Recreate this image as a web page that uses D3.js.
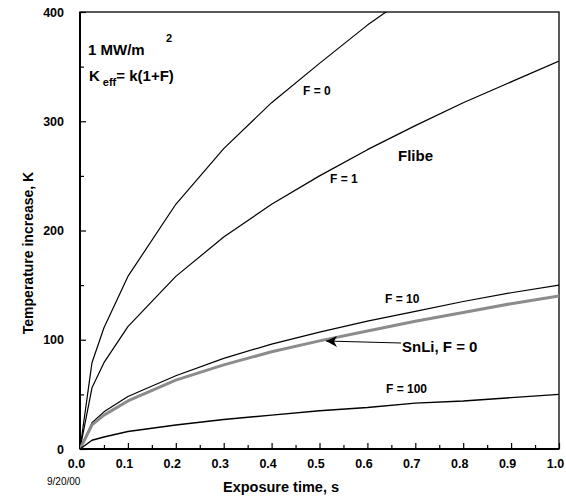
<!DOCTYPE html>
<html><head><meta charset="utf-8">
<script src="https://cdn.jsdelivr.net/npm/d3@7"></script>
<style>
body{margin:0;background:#fff}
svg text{font-family:"Liberation Sans Narrow","Arial Narrow","Liberation Sans",Arial,sans-serif;fill:#000}
</style>
</head><body>
<svg id="c" width="566" height="497"></svg>
<script>
// ---- data ----
const times   = [0, 0.025, 0.05, 0.1, 0.2, 0.3, 0.4, 0.5, 0.6, 0.7, 0.8, 0.9, 1.0];
const flibeF0   = [0, 79, 111, 158, 224, 275, 317, 353, 388, 419, null, null, null];
const flibeF1   = [0, 56, 79, 112, 158, 194, 224, 250, 274, 296, 317, 336, 355];
const flibeF10  = [0, 24, 34, 48, 67, 83, 96, 107, 117, 126, 135, 143, 150];
const snliF0    = [0, 22, 31, 44, 63, 77, 89, 99, 108, 117, 125, 133, 140];
const flibeF100 = [0, 8, 11, 16, 22, 27, 31, 35, 38, 42, 44, 47, 50];
const xTicks = [0, 0.1, 0.2, 0.3, 0.4, 0.5, 0.6, 0.7, 0.8, 0.9, 1.0];
const yTicks = [0, 100, 200, 300, 400];

const svg = d3.select("#c");
const L = 80, R = 559, T = 12, B = 449;
const x = d3.scaleLinear().domain([0, 1]).range([L, R]);
const y = d3.scaleLinear().domain([0, 400]).range([B, T]);

svg.append("clipPath").attr("id", "clip").append("rect")
  .attr("x", L).attr("y", T).attr("width", R - L).attr("height", B - T);

// minor ticks
svg.append("g").attr("transform", `translate(0,${B})`)
  .call(d3.axisBottom(x).tickValues(d3.range(0.05, 1, 0.1)).tickSize(-4).tickFormat(""))
  .call(g => g.select(".domain").remove());
svg.append("g").attr("transform", `translate(${L},0)`)
  .call(d3.axisLeft(y).tickValues([50, 150, 250, 350]).tickSize(-4).tickFormat(""))
  .call(g => g.select(".domain").remove());

// major axes
const xa = svg.append("g").attr("transform", `translate(0,${B})`)
  .call(d3.axisBottom(x).tickValues(xTicks).tickSizeInner(-6).tickSizeOuter(0).tickPadding(10).tickFormat(d3.format(".1f")));
xa.select(".domain").remove();
xa.selectAll("text").attr("dx", -4).style("font-size", "12.5px").style("font-weight", "bold");

const ya = svg.append("g").attr("transform", `translate(${L},0)`)
  .call(d3.axisLeft(y).tickValues(yTicks).tickSizeInner(-6).tickSizeOuter(0).tickPadding(16).tickFormat(d3.format("d")));
ya.select(".domain").remove();
ya.selectAll("text").style("font-size", "12.5px").style("font-weight", "bold");
svg.selectAll(".tick line").attr("stroke", "#000").attr("stroke-width", 1.2);

// frame
svg.append("rect").attr("x", L).attr("y", T).attr("width", R - L).attr("height", B - T)
  .attr("fill", "none").attr("stroke", "#000").attr("stroke-width", 1.3);
svg.append("line").attr("x1", L).attr("x2", L).attr("y1", T).attr("y2", B).attr("stroke", "#000").attr("stroke-width", 2);
svg.append("line").attr("x1", L).attr("x2", R).attr("y1", B).attr("y2", B).attr("stroke", "#000").attr("stroke-width", 2);

// curves
const line = d3.line().defined(d => d[1] != null).x(d => x(d[0])).y(d => y(d[1]));
const series = [
  {v: flibeF0, c: "#000", w: 1.2},
  {v: flibeF1, c: "#000", w: 1.2},
  {v: flibeF10, c: "#000", w: 1.2},
  {v: snliF0, c: "#8c8c8c", w: 3},
  {v: flibeF100, c: "#000", w: 1.4}
];
const gl = svg.append("g").attr("clip-path", "url(#clip)");
series.forEach(s => {
  gl.append("path").datum(times.map((t, i) => [t, s.v[i]]))
    .attr("d", line).attr("fill", "none").attr("stroke", s.c).attr("stroke-width", s.w)
    .attr("stroke-linejoin", "round");
});

// labels
function txt(xp, yp, str, size, weight, anchor) {
  return svg.append("text").attr("x", xp).attr("y", yp).text(str)
    .style("font-size", size + "px").style("font-weight", weight || "bold")
    .attr("text-anchor", anchor || "start");
}
txt(303, 95, "F = 0", 12, "bold");
txt(330, 183, "F = 1", 12, "bold");
txt(398, 161, "Flibe", 15, "bold");
txt(385, 303, "F = 10", 12, "bold");
txt(386, 393, "F = 100", 12, "bold");
txt(402, 352, "SnLi, F = 0", 15, "bold");

// arrow
svg.append("defs").append("marker").attr("id", "ah").attr("viewBox", "0 0 10 10")
  .attr("refX", 1).attr("refY", 5).attr("markerWidth", 11).attr("markerHeight", 7)
  .attr("markerUnits", "userSpaceOnUse").attr("orient", "auto-start-reverse")
  .append("path").attr("d", "M0,5 L10,0 L6,5 L10,10 Z").attr("fill", "#000");
svg.append("line").attr("x1", 401).attr("y1", 343).attr("x2", 326).attr("y2", 341)
  .attr("stroke", "#000").attr("stroke-width", 1.2).attr("marker-end", null).attr("marker-start", null);
svg.append("path").attr("d", `M${326},${341} L${337},${336} L${334},${341.5} L${337},${347} Z`).attr("fill", "#000");

// top-left annotation
txt(88, 55, "1 MW/m", 15, "bold");
txt(166, 42, "2", 11, "bold");
const k = svg.append("text").attr("x", 89).attr("y", 81).style("font-size", "15px").style("font-weight", "bold");
k.append("tspan").text("K");
k.append("tspan").text("eff").attr("dx", 3).attr("dy", 5).style("font-size", "11px");
k.append("tspan").text("= k(1+F)").attr("dy", -5);

// axis titles
txt(281, 492, "Exposure time, s", 14.5, "bold", "middle");
svg.append("text").attr("transform", "translate(33,253) rotate(-90)").attr("text-anchor", "middle")
  .text("Temperature increase, K").style("font-size", "14px").style("font-weight", "bold");
txt(47, 485, "9/20/00", 10, "normal");
</script>
</body></html>
